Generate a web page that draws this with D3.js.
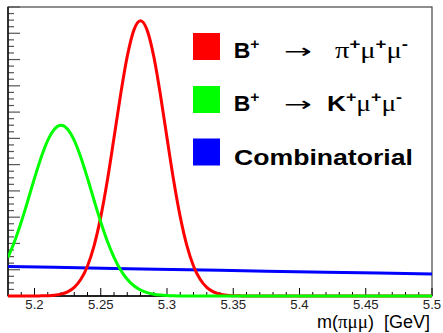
<!DOCTYPE html>
<html><head><meta charset="utf-8">
<script src="https://cdn.jsdelivr.net/npm/d3@7"></script>
<style>body{margin:0;background:#fff}svg{display:block}</style>
</head><body>
<svg id="c" width="443" height="333"></svg>
<script>
// ---- data ----
const massX = [5.180,5.185,5.190,5.195,5.200,5.205,5.210,5.215,5.220,5.225,5.230,5.235,5.240,5.245,5.250,5.255,5.260,5.265,5.270,5.275,5.280,5.285,5.290,5.295,5.300,5.305,5.310,5.315,5.320,5.325,5.330,5.335,5.340,5.345,5.350,5.355,5.360,5.365,5.370,5.375,5.380,5.385,5.390,5.395,5.400,5.405,5.410,5.415,5.420,5.425,5.430,5.435,5.440,5.445,5.450,5.455,5.460,5.465,5.470,5.475,5.480,5.485,5.490,5.495,5.500];
const piMuMu = [0,0,0,0,0,0.02,0.05,0.12,0.29,0.63,1.31,2.54,4.57,7.68,12.05,17.63,24.08,30.68,36.48,40.48,41.9,40.48,36.48,30.68,24.08,17.63,12.05,7.68,4.57,2.54,1.31,0.63,0.29,0.12,0.05,0.02,0,0,0,0,0,0,0,0,0,0,0,0,0,0,0,0,0,0,0,0,0,0,0,0,0,0,0,0,0];
const kMuMu = [5.88,8.33,11.27,14.54,17.93,21.09,23.69,25.40,26.0,25.40,23.69,21.09,17.93,14.54,11.27,8.33,5.88,3.96,2.55,1.56,0.92,0.51,0.27,0.14,0.07,0.03,0.01,0,0,0,0,0,0,0,0,0,0,0,0,0,0,0,0,0,0,0,0,0,0,0,0,0,0,0,0,0,0,0,0,0,0,0,0,0,0];
const combX = [5.18,5.26,5.34,5.42,5.50];
const combY = [4.50,4.20,3.91,3.63,3.35];
const xTickLabels = ["5.2","5.25","5.3","5.35","5.4","5.45","5.5"];
const xMajor = [5.2,5.25,5.3,5.35,5.4,5.45,5.5];
const xMinor = [5.19,5.21,5.22,5.23,5.24,5.26,5.27,5.28,5.29,5.31,5.32,5.33,5.34,5.36,5.37,5.38,5.39,5.41,5.42,5.43,5.44,5.46,5.47,5.48,5.49];
const yMajor = [0,4,8,12,16,20,24,28,32,36,40,44];
const yMinor = [1,2,3,5,6,7,9,10,11,13,14,15,17,18,19,21,22,23,25,26,27,29,30,31,33,34,35,37,38,39,41,42,43];
const colors = {pi:"#ff0000", k:"#00ff00", comb:"#0000ff"};

const svg = d3.select("#c");
const L=8, R=432, T=7, B=296;
const x = d3.scaleLinear().domain([5.18,5.5]).range([L,R]);
const y = d3.scaleLinear().domain([0,44]).range([B,T]);

svg.append("defs").append("clipPath").attr("id","clip")
  .append("rect").attr("x",L).attr("y",0).attr("width",R-L).attr("height",B+3);

// frame
svg.append("rect").attr("x",L).attr("y",T).attr("width",R-L).attr("height",B-T)
  .attr("fill","none").attr("stroke","#444").attr("stroke-width",1.2);

// x ticks
const gx = svg.append("g");
gx.selectAll(".mj").data(xMajor).join("line")
  .attr("x1",d=>x(d)).attr("x2",d=>x(d)).attr("y1",B).attr("y2",B-8)
  .attr("stroke","#000").attr("stroke-width",1);
gx.selectAll(".mn").data(xMinor).join("line")
  .attr("x1",d=>x(d)).attr("x2",d=>x(d)).attr("y1",B).attr("y2",B-4)
  .attr("stroke","#000").attr("stroke-width",1);
gx.selectAll("text").data(xMajor).join("text")
  .attr("transform",d=>`translate(${x(d)},309) scale(1.1,1)`)
  .attr("text-anchor","middle").attr("font-family","Liberation Sans, Arial, sans-serif")
  .attr("font-size",12).attr("fill","#222").text((d,i)=>xTickLabels[i]);

// y ticks
const gy = svg.append("g");
gy.selectAll(".mj").data(yMajor).join("line")
  .attr("x1",L).attr("x2",L+12).attr("y1",d=>y(d)).attr("y2",d=>y(d))
  .attr("stroke","#555").attr("stroke-width",1.2);
gy.selectAll(".mn").data(yMinor).join("line")
  .attr("x1",L).attr("x2",L+6).attr("y1",d=>y(d)).attr("y2",d=>y(d))
  .attr("stroke","#555").attr("stroke-width",1.2);
svg.append("line").attr("x1",L).attr("x2",L).attr("y1",T).attr("y2",B).attr("stroke","#000").attr("stroke-width",1.3);
svg.append("line").attr("x1",L).attr("x2",R).attr("y1",B).attr("y2",B).attr("stroke","#000").attr("stroke-width",1.3);

// curves
const plot = svg.append("g").attr("clip-path","url(#clip)");
const line = d3.line().x(d=>x(d[0])).y(d=>y(d[1])).curve(d3.curveMonotoneX);
plot.append("path").datum(combX.map((v,i)=>[v,combY[i]])).attr("d",line)
  .attr("fill","none").attr("stroke",colors.comb).attr("stroke-width",3);
plot.append("path").datum(massX.map((v,i)=>[v,piMuMu[i]])).attr("d",line)
  .attr("fill","none").attr("stroke",colors.pi).attr("stroke-width",3);
plot.append("path").datum(massX.map((v,i)=>[v,kMuMu[i]])).attr("d",line)
  .attr("fill","none").attr("stroke",colors.k).attr("stroke-width",3);

// text helper: segments placed then stretched to target width
const SANS="Liberation Sans, Arial, Helvetica, sans-serif", SERIF="Liberation Serif, Times New Roman, DejaVu Serif, serif";
function rich(x0, base, width, segs, anchor){
  const g = svg.append("g");
  const t = g.append("text").attr("x",0).attr("y",0).attr("fill","#000").style("white-space","pre");
  segs.forEach(s=>{
    t.append("tspan").attr("font-family",s.f).attr("font-weight",s.w||"normal")
      .attr("font-size",s.s).attr("dy",s.dy||0).text(s.t);
  });
  const bb = t.node().getBBox();
  const sx = width/bb.width;
  const left = anchor==="end" ? x0-width : x0;
  g.attr("transform",`translate(${left - bb.x*sx},${base}) scale(${sx},1)`);
}

// legend
const leg = [
  {c:colors.pi, y:33},
  {c:colors.k, y:86},
  {c:colors.comb, y:138.5}
];
svg.selectAll(".lg").data(leg).join("rect")
  .attr("x",193).attr("y",d=>d.y).attr("width",27).attr("height",27).attr("fill",d=>d.c);

const sup = (t)=>({t, f:SANS, w:"bold", s:15, dy:-9});
const ARROW = "DejaVu Sans, sans-serif";
rich(233.7, 58, 26, [{t:"B",f:SANS,w:"bold",s:22}, sup("+")]);
rich(284, 58, 28, [{t:"→",f:ARROW,s:20}]);
rich(335, 58, 73, [{t:"π",f:SERIF,s:23}, sup("+"), {t:"μ",f:SERIF,s:23,dy:9}, sup("+"), {t:"μ",f:SERIF,s:23,dy:9}, {t:"-",f:SANS,w:"bold",s:15,dy:-9}]);

rich(233.7, 111, 26, [{t:"B",f:SANS,w:"bold",s:22}, sup("+")]);
rich(284, 111, 28, [{t:"→",f:ARROW,s:20}]);
rich(327, 111, 75, [{t:"K",f:SANS,w:"bold",s:22}, sup("+"), {t:"μ",f:SERIF,s:23,dy:9}, sup("+"), {t:"μ",f:SERIF,s:23,dy:9}, {t:"-",f:SANS,w:"bold",s:15,dy:-9}]);

rich(234, 165, 179, [{t:"Combinatorial",f:SANS,w:"bold",s:22}]);

// axis title
rich(430, 328, 113, [{t:"m(",f:SANS,s:18},{t:"πμμ",f:SERIF,s:19},{t:")\u00a0\u00a0[GeV]",f:SANS,s:18}], "end");
</script>
</body></html>
